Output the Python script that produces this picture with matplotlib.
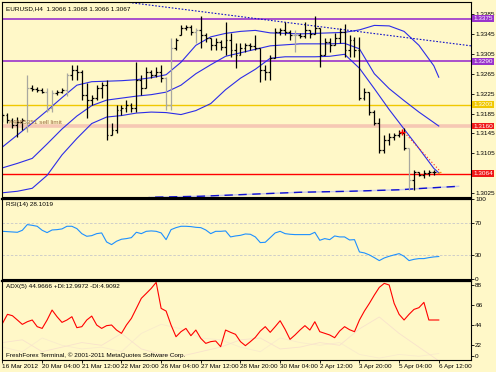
import matplotlib.pyplot as plt
import matplotlib.transforms as mtransforms

# ---- data (EURUSD H4) ----
high = [1.3186, 1.3186, 1.3176, 1.3178, 1.3176, 1.3263, 1.3242, 1.3238, 1.3236, 1.3236,
        1.3232, 1.3232, 1.3236, 1.3267, 1.3283, 1.3283, 1.3273, 1.3246, 1.3222, 1.3242,
        1.3249, 1.3253, 1.3166, 1.3202, 1.3202, 1.3212, 1.3206, 1.3289, 1.3263, 1.3279,
        1.3273, 1.3279, 1.3283, 1.3259, 1.3337, 1.3337, 1.3363, 1.3363, 1.3363, 1.3357,
        1.3381, 1.3347, 1.3337, 1.3337, 1.3333, 1.3369, 1.3347, 1.3327, 1.3327, 1.3327,
        1.3327, 1.3343, 1.3317, 1.3283, 1.3303, 1.3357, 1.3357, 1.3369, 1.3353, 1.3353,
        1.3347, 1.3369, 1.3353, 1.3381, 1.3357, 1.3337, 1.3337, 1.3347, 1.3357, 1.3365,
        1.3343, 1.3339, 1.3339, 1.3236, 1.3228, 1.3192, 1.3176, 1.3142, 1.3146, 1.3146,
        1.3152, 1.3156, 1.3116, 1.3072, 1.3068, 1.3072, 1.3072, 1.3072, 1.3068]
low = [1.3168, 1.3166, 1.3156, 1.3138, 1.3152, 1.3148, 1.3230, 1.3228, 1.3226, 1.3188,
       1.3188, 1.3222, 1.3226, 1.3220, 1.3253, 1.3253, 1.3212, 1.3176, 1.3202, 1.3212,
       1.3216, 1.3132, 1.3142, 1.3146, 1.3182, 1.3188, 1.3188, 1.3188, 1.3222, 1.3236,
       1.3257, 1.3259, 1.3249, 1.3192, 1.3192, 1.3313, 1.3343, 1.3353, 1.3343, 1.3327,
       1.3317, 1.3329, 1.3313, 1.3313, 1.3313, 1.3303, 1.3299, 1.3277, 1.3303, 1.3309,
       1.3313, 1.3313, 1.3249, 1.3253, 1.3253, 1.3297, 1.3343, 1.3343, 1.3333, 1.3309,
       1.3337, 1.3337, 1.3337, 1.3345, 1.3279, 1.3303, 1.3309, 1.3323, 1.3327, 1.3299,
       1.3299, 1.3299, 1.3212, 1.3212, 1.3182, 1.3162, 1.3106, 1.3106, 1.3122, 1.3132,
       1.3138, 1.3112, 1.3032, 1.3032, 1.3060, 1.3056, 1.3060, 1.3062, 1.3066]
opens = [1.3176, 1.3182, 1.3172, 1.3162, 1.3168, 1.3156, 1.3236, 1.3234, 1.3232, 1.3228,
         1.3196, 1.3226, 1.3228, 1.3232, 1.3263, 1.3273, 1.3269, 1.3222, 1.3212, 1.3216,
         1.3236, 1.3242, 1.3142, 1.3152, 1.3192, 1.3196, 1.3202, 1.3196, 1.3253, 1.3236,
         1.3269, 1.3263, 1.3269, 1.3257, 1.3202, 1.3317, 1.3343, 1.3357, 1.3359, 1.3349,
         1.3353, 1.3343, 1.3337, 1.3323, 1.3329, 1.3319, 1.3333, 1.3313, 1.3303, 1.3317,
         1.3323, 1.3321, 1.3317, 1.3273, 1.3269, 1.3297, 1.3349, 1.3353, 1.3349, 1.3343,
         1.3343, 1.3341, 1.3353, 1.3345, 1.3357, 1.3303, 1.3329, 1.3323, 1.3337, 1.3349,
         1.3313, 1.3333, 1.3313, 1.3216, 1.3228, 1.3188, 1.3166, 1.3112, 1.3132, 1.3138,
         1.3142, 1.3146, 1.3116, 1.3052, 1.3068, 1.3062, 1.3066, 1.3068, 1.3066]
closes = [1.3182, 1.3172, 1.3162, 1.3168, 1.3172, 1.3236, 1.3234, 1.3232, 1.3228, 1.3192,
          1.3226, 1.3228, 1.3232, 1.3263, 1.3273, 1.3269, 1.3222, 1.3212, 1.3216, 1.3236,
          1.3242, 1.3142, 1.3152, 1.3192, 1.3196, 1.3202, 1.3196, 1.3253, 1.3236, 1.3269,
          1.3263, 1.3269, 1.3257, 1.3202, 1.3317, 1.3333, 1.3357, 1.3359, 1.3349, 1.3353,
          1.3343, 1.3337, 1.3323, 1.3329, 1.3319, 1.3333, 1.3313, 1.3303, 1.3317, 1.3323,
          1.3321, 1.3317, 1.3273, 1.3269, 1.3297, 1.3349, 1.3353, 1.3349, 1.3343, 1.3343,
          1.3341, 1.3353, 1.3345, 1.3357, 1.3303, 1.3329, 1.3323, 1.3337, 1.3349, 1.3313,
          1.3333, 1.3313, 1.3216, 1.3228, 1.3188, 1.3166, 1.3112, 1.3132, 1.3138, 1.3142,
          1.3146, 1.3116, 1.3052, 1.3068, 1.3062, 1.3066, 1.3068, 1.3068, 1.3067]
light_bars = [5, 9, 10, 13, 33, 34, 39, 59, 82]

# Bollinger bands, read every third bar
band_idx = [0, 3, 6, 9, 12, 15, 18, 21, 24, 27, 30, 33, 36, 39, 42, 45, 48, 51, 54, 57,
            60, 63, 66, 69, 72, 75, 78, 81, 84, 87, 88]
bb_upper = [1.3118, 1.3142, 1.3166, 1.3191, 1.3217, 1.3242, 1.3249, 1.3250, 1.3251, 1.3253,
            1.3257, 1.3263, 1.3288, 1.3322, 1.3339, 1.3346, 1.3350, 1.3352, 1.3347, 1.3346,
            1.3345, 1.3346, 1.3347, 1.3348, 1.3353, 1.3362, 1.3361, 1.3350, 1.3322, 1.3281, 1.3258]
bb_mid = [1.3076, 1.3085, 1.3095, 1.3124, 1.3154, 1.3180, 1.3201, 1.3212, 1.3216, 1.3220,
          1.3223, 1.3228, 1.3242, 1.3265, 1.3283, 1.3300, 1.3307, 1.3314, 1.3321, 1.3323,
          1.3325, 1.3325, 1.3325, 1.3326, 1.3315, 1.3265, 1.3235, 1.3211, 1.3188, 1.3167, 1.3160]
bb_lower = [1.3026, 1.3029, 1.3035, 1.3061, 1.3102, 1.3135, 1.3165, 1.3178, 1.3181, 1.3186,
            1.3188, 1.3187, 1.3183, 1.3191, 1.3205, 1.3233, 1.3256, 1.3274, 1.3296, 1.3299,
            1.3299, 1.3299, 1.3300, 1.3304, 1.3276, 1.3235, 1.3193, 1.3154, 1.3115, 1.3075, 1.3066]

# long moving average (dashed, shifted forward)
ma_idx = [28, 30, 40, 50, 60, 70, 80, 85, 92]
ma_val = [1.3014, 1.3017, 1.3019, 1.3023, 1.3027, 1.3029, 1.3032, 1.3035, 1.3039]

# trend lines
trend_idx = [24.8, 94.5]
trend_val = [1.3409, 1.3321]
red_trend_idx = [80.6, 88.3]
red_trend_val = [1.3152, 1.3069]

# horizontal levels: price, colour, width
levels = [(1.3375, '#9933CC', 1.2), (1.3290, '#9933CC', 1.2), (1.3203, '#F0C800', 1.0),
          (1.3160, '#F6C8B4', 2.6), (1.3064, '#FF0000', 1.0)]
level_boxes = [(1.3375, '#9933CC'), (1.3290, '#9933CC'), (1.3203, '#F0C800'),
               (1.3160, '#F01818'), (1.3064, '#F01818')]
price_ticks = [1.3385, 1.3345, 1.3305, 1.3265, 1.3225, 1.3185, 1.3145, 1.3105, 1.3025]

rsi = [59.6, 59.2, 58.8, 58.4, 60.9, 68.0, 67.1, 65.9, 60.9, 58.0,
       61.3, 61.7, 62.6, 65.9, 65.9, 63.0, 56.7, 53.4, 54.2, 56.7,
       57.6, 46.3, 43.0, 47.2, 49.7, 50.5, 51.7, 58.4, 56.7, 59.6,
       60.1, 59.6, 57.6, 49.2, 61.7, 64.2, 65.9, 65.9, 65.5, 64.6,
       64.2, 61.3, 56.7, 59.6, 59.6, 60.1, 52.6, 53.8, 54.6, 56.3,
       55.9, 52.6, 45.5, 45.9, 51.7, 57.6, 59.6, 56.7, 55.9, 55.5,
       55.5, 55.5, 55.5, 58.4, 48.4, 50.5, 49.2, 53.8, 52.6, 52.6,
       48.8, 49.2, 33.8, 32.6, 30.1, 26.7, 23.0, 26.3, 28.4, 30.1,
       31.7, 28.4, 23.0, 24.6, 25.5, 25.5, 26.7, 27.6, 28.1]

adx = [46.0, 55.9, 54.4, 49.7, 44.9, 47.8, 49.7, 42.4, 40.5, 49.7,
       60.6, 53.3, 47.1, 49.7, 53.3, 41.3, 42.4, 49.7, 54.0, 44.2,
       40.5, 43.5, 44.2, 38.7, 35.1, 44.2, 51.5, 62.4, 73.4, 78.8,
       84.3, 90.9, 62.4, 59.5, 44.2, 31.4, 36.9, 40.5, 32.5, 38.7,
       29.6, 24.1, 26.0, 26.7, 20.5, 38.7, 36.2, 34.0, 26.0, 21.6,
       26.0, 30.7, 37.6, 42.4, 36.2, 42.4, 48.9, 39.5, 28.5, 33.3,
       38.7, 43.5, 38.7, 47.8, 36.9, 35.1, 33.3, 30.3, 37.6, 42.4,
       39.1, 36.9, 49.7, 59.5, 67.9, 77.0, 85.4, 89.8, 88.0, 67.9,
       55.9, 49.7, 55.9, 61.3, 63.2, 69.0, 49.7, 49.7, 49.7]
di_idx = [0, 4, 8, 12, 16, 20, 24, 28, 32, 36, 40, 44, 48, 52, 56, 60, 64, 68, 72, 76, 80, 84, 88]
plus_di = [20, 15, 30, 22, 18, 20, 15, 35, 45, 40, 30, 28, 20, 15, 30, 25, 22, 25, 12, 8, 12, 10, 13]
minus_di = [25, 28, 15, 20, 25, 22, 35, 18, 12, 10, 15, 20, 28, 30, 18, 20, 25, 22, 40, 53, 35, 20, 5]

date_idx = [0, 8, 16, 24, 32, 40, 48, 56, 64, 72, 80, 88]
date_labels = ['16 Mar 2012', '20 Mar 04:00', '21 Mar 12:00', '22 Mar 20:00', '26 Mar 04:00',
               '27 Mar 12:00', '28 Mar 20:00', '30 Mar 04:00', '2 Apr 12:00', '3 Apr 20:00',
               '5 Apr 04:00', '6 Apr 12:00']

# ---- style ----
bg = '#FFF8C8'
fs = 4.6
plt.rcParams['font.family'] = ['Liberation Sans', 'DejaVu Sans']
plt.rcParams['font.size'] = fs

fig = plt.figure(figsize=(4.96, 3.72), dpi=100, facecolor=bg)
L, W = 2 / 496, 469 / 496
ax = fig.add_axes([L, 175 / 372, W, 195 / 372], facecolor=bg)
ax_rsi = fig.add_axes([L, 93 / 372, W, 80 / 372], facecolor=bg)
ax_adx = fig.add_axes([L, 12 / 372, W, 79 / 372], facecolor=bg)

xs = list(range(len(high)))
for a in (ax, ax_rsi, ax_adx):
    a.set_xlim(-0.1, 94.5)
    a.yaxis.tick_right()
    a.tick_params(axis='y', length=2, width=0.6, pad=1, labelsize=fs, colors='black')
    for s in a.spines.values():
        s.set_linewidth(0.8)
    a.set_xticks([])

# ---- main price panel ----
for p, c, w in levels:
    ax.axhline(p, color=c, lw=w, zorder=1)

ax.plot(band_idx, bb_upper, color='#2C2CE8', lw=0.8, zorder=2)
ax.plot(band_idx, bb_mid, color='#2C2CE8', lw=0.8, zorder=2)
ax.plot(band_idx, bb_lower, color='#2C2CE8', lw=0.8, zorder=2)
ax.plot(ma_idx, ma_val, color='#C8C8E8', lw=1.0, zorder=2)
ax.plot(ma_idx, ma_val, color='#1010D0', lw=1.0, ls=(0, (6, 4)), zorder=2)
ax.plot(trend_idx, trend_val, color='#1010C8', lw=0.8, ls=(0, (1.5, 1.5)), zorder=2)
ax.plot(red_trend_idx, red_trend_val, color='#FF2020', lw=0.8, ls=(0, (1, 2)), zorder=4)
ax.plot(80.6, 1.3147, marker='+', color='#FF0000', ms=4, mew=1.0, zorder=5)

bar_cols = ['#A8A8A0' if i in light_bars else 'black' for i in xs]
bar_cols[-1] = '#F09010'
ax.vlines(xs, low, high, colors=bar_cols, lw=0.9, zorder=3)
ax.hlines(opens, [x - 0.38 for x in xs], xs, colors=bar_cols, lw=0.9, zorder=3)
ax.hlines(closes, xs, [x + 0.38 for x in xs], colors=bar_cols, lw=0.9, zorder=3)

ax.set_ylim(1.30175, 1.3409)
ax.set_yticks(price_ticks)
ax.set_yticklabels(['%.4f' % t for t in price_ticks])

for p, c in level_boxes:
    ax.annotate('%.4f' % p, xy=(1, p), xycoords=('axes fraction', 'data'),
                xytext=(1.5, 0), textcoords='offset points', va='center', ha='left',
                color='white', fontsize=fs, annotation_clip=False, zorder=10,
                bbox=dict(boxstyle='square,pad=0.15', fc=c, ec='none'))

ax.text(0.008, 0.977, 'EURUSD,H4  1.3066 1.3068 1.3066 1.3067', transform=ax.transAxes,
        fontsize=fs, va='top', ha='left')
trans = mtransforms.blended_transform_factory(ax.transAxes, ax.transData)
ax.text(0.015, 1.3163, '#4885351 sell limit', transform=trans, fontsize=fs,
        color='#9A6A40', va='bottom', ha='left', zorder=4)

# ---- RSI panel ----
ax_rsi.axhline(70, color='#C8C8C8', lw=0.6, ls=(0, (3, 2)))
ax_rsi.axhline(30, color='#C8C8C8', lw=0.6, ls=(0, (3, 2)))
ax_rsi.plot(xs, rsi, color='#1E90FF', lw=0.8)
ax_rsi.set_ylim(0, 100)
ax_rsi.set_yticks([100, 70, 30, 0])
ax_rsi.set_yticklabels(['100', '70', '30', '0'])
ax_rsi.spines['top'].set_linewidth(1.6)
ax_rsi.text(0.008, 0.96, 'RSI(14) 28.1019', transform=ax_rsi.transAxes, fontsize=fs,
            va='top', ha='left')

# ---- ADX panel ----
ax_adx.plot(di_idx, plus_di, color='#F9EBCC', lw=0.6)
ax_adx.plot(di_idx, minus_di, color='#F8E2CC', lw=0.6)
ax_adx.plot(xs, adx, color='#FF0000', lw=0.8)
ax_adx.set_ylim(5.9, 92.4)
ax_adx.set_yticks([88, 66, 44, 22, 10.5])
ax_adx.set_yticklabels(['88', '66', '44', '22', '0'])
ax_adx.spines['top'].set_linewidth(1.6)
ax_adx.text(0.008, 0.96, 'ADX(5) 44.9666 +DI:12.9972 -DI:4.9092', transform=ax_adx.transAxes,
            fontsize=fs, va='top', ha='left')
ax_adx.text(0.008, 0.03, 'FreshForex Terminal, \u00a9 2001-2011 MetaQuotes Software Corp.',
            transform=ax_adx.transAxes, fontsize=fs, va='bottom', ha='left')

ax_adx.set_xticks(date_idx)
ax_adx.set_xticklabels(date_labels)
ax_adx.tick_params(axis='x', length=2, width=0.6, pad=1, labelsize=fs)
for lbl in ax_adx.get_xticklabels():
    lbl.set_ha('left')

fig.savefig('out.png', dpi=100, facecolor=bg)
